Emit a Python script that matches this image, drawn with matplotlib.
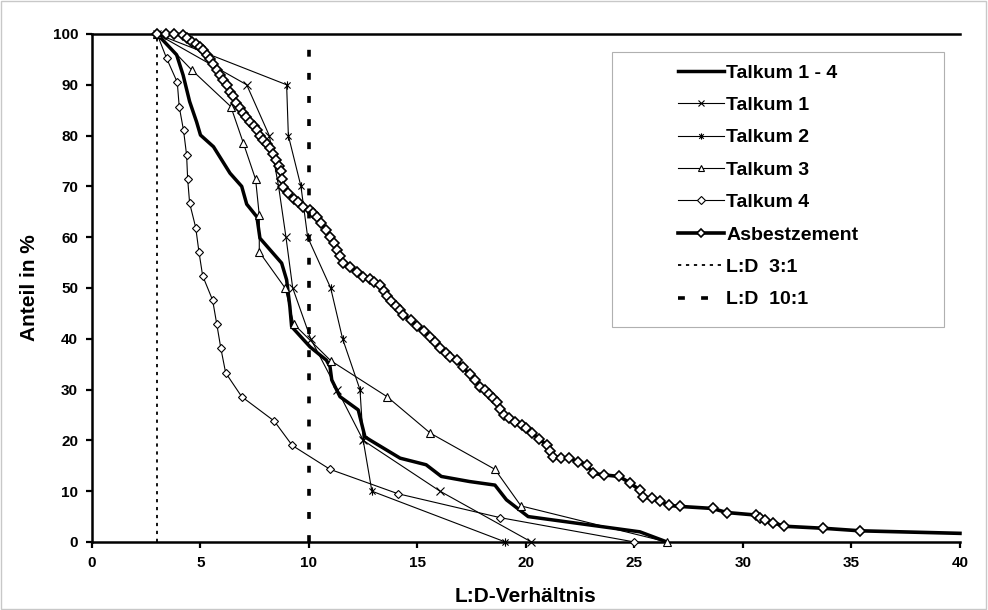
import matplotlib
matplotlib.use("Agg")
from matplotlib import pyplot as plt
from matplotlib.path import Path
from matplotlib.patches import Rectangle

plt.rcParams['font.family'] = ['Liberation Sans', 'DejaVu Sans']
plt.rcParams['font.weight'] = 'bold'

# Talkum 1 - 4 (all fibres, thick line without markers)
all_x = [3.0, 3.9, 4.2, 4.5, 4.82, 5.0, 5.6, 6.36, 6.9, 7.13, 7.6, 7.74, 8.74, 8.97, 9.12, 9.2,
         10.05, 10.8, 10.97, 11.05, 11.43, 12.27, 12.58, 12.8, 14.2, 15.4, 16.1, 17.4, 18.57,
         19.1, 20.1, 25.25, 26.5]
all_y = [100, 95.9, 91.9, 86.7, 82.7, 80.1, 77.8, 72.6, 70.0, 66.5, 64.0, 59.8, 54.9, 51.6, 46.3, 42.4,
         38.4, 35.8, 34.5, 31.9, 28.6, 26.0, 20.7, 20.1, 16.5, 15.2, 12.9, 11.9, 11.2,
         8.3, 5.0, 2.0, 0.0]

# Talkum 1 (x)
t1_x = [3.0, 7.13, 8.17, 8.6, 8.94, 9.25, 10.08, 11.3, 12.5, 16.04, 20.25]
t1_y = [100, 90, 80, 70, 60, 50, 40, 30, 20, 10, 0]

# Talkum 2 (*)
t2_x = [3.0, 8.97, 9.05, 9.63, 9.94, 11.0, 11.55, 12.35, 12.5, 12.9, 19.05]
t2_y = [100, 90, 80, 70, 60, 50, 40, 30, 20, 10, 0]

# Talkum 3 (triangle)
t3_x = [3.0, 4.6, 6.4, 6.97, 7.54, 7.71, 7.71, 8.9, 9.3, 11.0, 13.6, 15.6, 18.57, 19.77, 26.5]
t3_y = [100, 92.9, 85.7, 78.6, 71.4, 64.3, 57.1, 50.0, 42.9, 35.7, 28.6, 21.4, 14.3, 7.1, 0.0]

# Talkum 4 (diamond)
t4_x = [3.0, 3.44, 3.93, 4.02, 4.22, 4.36, 4.41, 4.5, 4.78, 4.93, 5.1, 5.56, 5.75, 5.94, 6.16,
        6.9, 8.4, 9.23, 10.97, 14.1, 18.8, 25.0]
t4_y = [100, 95.2, 90.5, 85.7, 81.0, 76.2, 71.4, 66.7, 61.9, 57.1, 52.4, 47.6, 42.9, 38.1, 33.3,
        28.6, 23.8, 19.0, 14.3, 9.5, 4.8, 0.0]

# Asbestzement (thick line with diamonds)
asb_x = [3.0, 3.4, 3.8, 4.2, 4.4, 4.6, 4.8, 5.0, 5.13, 5.3, 5.45, 5.6, 5.75, 5.9, 6.05, 6.2,
         6.36, 6.5, 6.65, 6.82, 6.97, 7.1, 7.28, 7.45, 7.6, 7.75, 7.9, 8.05, 8.2, 8.35, 8.5,
         8.6, 8.7, 8.75, 8.82, 9.05, 9.3, 9.5, 9.74, 10.05, 10.2, 10.35, 10.55, 10.8, 10.97,
         11.15, 11.3, 11.45, 11.58, 11.9, 12.2, 12.5, 12.8, 13.0, 13.27, 13.45, 13.6, 13.8,
         14.0, 14.2, 14.35, 14.7, 15.0, 15.3, 15.58, 15.8, 16.04, 16.3, 16.5, 16.8, 17.1,
         17.4, 17.65, 17.9, 18.1, 18.3, 18.5, 18.65, 18.8, 19.0, 19.2, 19.5, 19.8, 20.0,
         20.3, 20.6, 20.95, 21.1, 21.25, 21.6, 22.0, 22.4, 22.8, 23.1, 23.6, 24.3, 24.8,
         25.25, 25.4, 25.8, 26.2, 26.6, 27.1, 28.6, 29.25, 30.6, 30.8, 31.0, 31.4, 31.9,
         33.7, 35.4, 40.0]
asb_y = [100, 100, 100, 99.8, 99.2, 98.5, 98.0, 97.5, 96.9, 95.9, 95.0, 94.0, 93.0, 91.9,
         90.9, 90.0, 88.6, 87.7, 86.5, 85.4, 84.5, 83.7, 82.7, 81.8, 81.0, 80.0, 79.1, 78.3,
         77.5, 76.4, 75.2, 74.0, 73.0, 71.5, 69.9, 68.6, 67.6, 67.0, 66.0, 65.4, 64.7, 64.0,
         62.8, 61.4, 60.1, 58.8, 57.5, 56.2, 54.9, 54.2, 53.2, 52.2, 51.7, 51.2, 50.5, 49.5,
         48.5, 47.5, 46.5, 45.6, 44.7, 43.6, 42.5, 41.5, 40.4, 39.3, 38.2, 37.2, 36.5, 35.8,
         34.4, 33.0, 31.8, 30.6, 29.9, 29.2, 28.3, 27.5, 26.2, 25.0, 24.4, 23.6, 23.0, 22.5,
         21.4, 20.3, 19.1, 18.0, 16.8, 16.6, 16.5, 15.8, 15.2, 13.5, 13.2, 12.9, 11.6,
         10.2, 8.9, 8.6, 8.0, 7.2, 7.0, 6.6, 5.8, 5.3, 4.7, 4.3, 3.8, 3.1,
         2.7, 2.2, 1.7]

ld3 = 3
ld10 = 10
x_ticks = [0, 5, 10, 15, 20, 25, 30, 35, 40]
y_ticks = [0, 10, 20, 30, 40, 50, 60, 70, 80, 90, 100]

# Excel-like asterisk marker: x with vertical bar
star = Path([(-1, -1), (1, 1), (-1, 1), (1, -1), (0, -1.35), (0, 1.35)],
            [Path.MOVETO, Path.LINETO, Path.MOVETO, Path.LINETO, Path.MOVETO, Path.LINETO])

fig = plt.figure(figsize=(9.88, 6.10), dpi=100)
ax = fig.add_axes([0.0931, 0.1115, 0.8785, 0.8328])

ax.plot(all_x, all_y, color='black', lw=2.5, label='Talkum 1 - 4', clip_on=False, zorder=3)
ax.plot(t1_x, t1_y, color='black', lw=0.8, marker='x', ms=5.5, mew=0.8,
        label='Talkum 1', clip_on=False, zorder=4)
ax.plot(t2_x, t2_y, color='black', lw=0.8, marker=star, ms=6, mew=0.8,
        label='Talkum 2', clip_on=False, zorder=4)
ax.plot(t3_x, t3_y, color='black', lw=0.8, marker='^', ms=5.5, mew=0.8, mfc='white',
        label='Talkum 3', clip_on=False, zorder=4)
ax.plot(t4_x, t4_y, color='black', lw=0.8, marker='D', ms=4, mew=0.8, mfc='white',
        label='Talkum 4', clip_on=False, zorder=4)
ax.plot(asb_x, asb_y, color='black', lw=2.6, marker='D', ms=5, mew=1.2, mfc='white',
        markevery=slice(0, len(asb_x) - 1), label='Asbestzement', clip_on=False, zorder=5)
ax.plot([ld3, ld3], [0, 100], color='black', lw=1.3, ls=(0, (1.8, 2.6)),
        label='L:D  3:1', zorder=6)
ax.plot([ld10, ld10], [0, 100], color='black', lw=2.6, ls=(0, (1.9, 4.5)),
        label='L:D  10:1', zorder=6)

ax.set_xlim(0, 40)
ax.set_ylim(0, 100)
ax.set_xticks(x_ticks)
ax.set_yticks(y_ticks)
ax.tick_params(direction='out', length=4, width=1.6, labelsize=11, pad=6)
for lab in ax.get_xticklabels() + ax.get_yticklabels():
    lab.set_fontweight('bold')
ax.spines['right'].set_visible(False)
for s in ['left', 'bottom', 'top']:
    ax.spines[s].set_linewidth(1.8)

ax.set_xlabel('L:D-Verhältnis', fontsize=15, fontweight='bold', labelpad=12)
ax.set_ylabel('Anteil in %', fontsize=15, fontweight='bold', labelpad=10)

# legend box drawn separately, entries centred inside it
fig.patches.append(Rectangle((0.619, 0.464), 0.336, 0.451, transform=fig.transFigure,
                             facecolor='white', edgecolor='#b0b0b0', lw=0.8, zorder=1))
ax.set_zorder(2)
ax.patch.set_alpha(0)
leg = ax.legend(loc='upper left', bbox_to_anchor=(0.676, 0.911), bbox_transform=fig.transFigure,
                frameon=False, fontsize=14, handlelength=2.4, handletextpad=0.1,
                labelspacing=0.76, borderpad=0)
for t in leg.get_texts():
    t.set_fontweight('bold')
for h in leg.legend_handles:
    h.set_markersize(4.5)

# light grey border round the whole picture
fig.patches.append(Rectangle((0.001, 0.001), 0.997, 0.997, transform=fig.transFigure,
                             facecolor='none', edgecolor='#c8c8c8', lw=1.0, zorder=0))

fig.savefig('out.png', dpi=100)
